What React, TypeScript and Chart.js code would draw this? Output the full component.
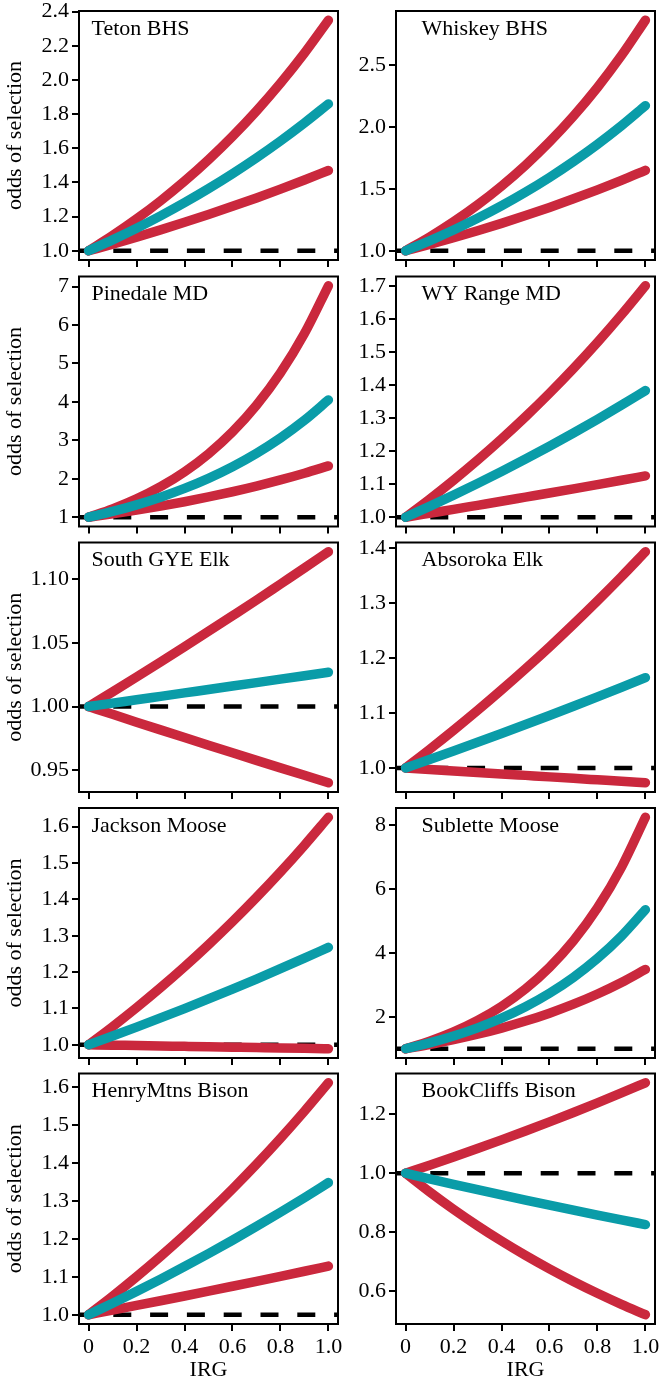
import React, { useEffect, useRef } from "react";
import { Chart, registerables } from "chart.js";

Chart.register(...registerables);

// ---------- data ----------
const IRG = [0, 0.1, 0.2, 0.3, 0.4, 0.5, 0.6, 0.7, 0.8, 0.9, 1.0];
const X_TICK_LABELS = ["0", "0.2", "0.4", "0.6", "0.8", "1.0"];
const X_TITLE = "IRG";
const Y_TITLE = "odds of selection";

const PANEL_TITLES = [
  "Teton BHS",
  "Whiskey BHS",
  "Pinedale MD",
  "WY Range MD",
  "South GYE Elk",
  "Absoroka Elk",
  "Jackson Moose",
  "Sublette Moose",
  "HenryMtns Bison",
  "BookCliffs Bison",
];

const TETON_HI = [1, 1.0892, 1.1863, 1.2922, 1.4074, 1.533, 1.6697, 1.8187, 1.9809, 2.1575, 2.35];
const TETON_MID = [1, 1.064, 1.1321, 1.2046, 1.2818, 1.3638, 1.4512, 1.5441, 1.6429, 1.7481, 1.86];
const TETON_LO = [1, 1.0393, 1.0801, 1.1225, 1.1666, 1.2124, 1.2601, 1.3096, 1.361, 1.4144, 1.47];
const TETON_YTICKS = ["1.0", "1.2", "1.4", "1.6", "1.8", "2.0", "2.2", "2.4"];

const WHISKEY_HI = [1, 1.111, 1.2342, 1.3712, 1.5233, 1.6923, 1.8801, 2.0887, 2.3204, 2.578, 2.864];
const WHISKEY_MID = [1, 1.0807, 1.1679, 1.2622, 1.364, 1.4741, 1.5931, 1.7217, 1.8606, 2.0107, 2.173];
const WHISKEY_LO = [1, 1.0514, 1.1054, 1.1621, 1.2218, 1.2845, 1.3505, 1.4199, 1.4928, 1.5694, 1.65];
const WHISKEY_YTICKS = ["1.0", "1.5", "2.0", "2.5"];

const PINEDALE_HI = [1, 1.2152, 1.4766, 1.7942, 2.1804, 2.6495, 3.2196, 3.9125, 4.7542, 5.7771, 7.02];
const PINEDALE_MID = [1, 1.1501, 1.3228, 1.5214, 1.7498, 2.0125, 2.3146, 2.6621, 3.0617, 3.5213, 4.05];
const PINEDALE_LO = [1, 1.0885, 1.1848, 1.2897, 1.4038, 1.5281, 1.6633, 1.8105, 1.9708, 2.1452, 2.335];
const PINEDALE_YTICKS = ["1", "2", "3", "4", "5", "6", "7"];

const WYRANGE_HI = [1, 1.0545, 1.112, 1.1726, 1.2365, 1.3038, 1.3749, 1.4498, 1.5288, 1.6122, 1.7];
const WYRANGE_MID = [1, 1.033, 1.067, 1.1022, 1.1385, 1.176, 1.2148, 1.2548, 1.2962, 1.3389, 1.383];
const WYRANGE_LO = [1, 1.0119, 1.0238, 1.036, 1.0482, 1.0607, 1.0732, 1.0859, 1.0988, 1.1118, 1.125];
const WYRANGE_YTICKS = ["1.0", "1.1", "1.2", "1.3", "1.4", "1.5", "1.6", "1.7"];

const SOUTHGYE_HI = [1, 1.0115, 1.0232, 1.035, 1.047, 1.0591, 1.0713, 1.0836, 1.0962, 1.1088, 1.1216];
const SOUTHGYE_MID = [1, 1.0027, 1.0053, 1.008, 1.0107, 1.0134, 1.0161, 1.0188, 1.0215, 1.0242, 1.0269];
const SOUTHGYE_LO = [1, 0.99384, 0.98772, 0.98164, 0.97559, 0.96959, 0.96362, 0.95768, 0.95179, 0.94593, 0.9401];
const SOUTHGYE_YTICKS = ["0.95", "1.00", "1.05", "1.10"];

const ABSOROKA_HI = [1, 1.0337, 1.0685, 1.1045, 1.1418, 1.1803, 1.22, 1.2612, 1.3037, 1.3476, 1.393];
const ABSOROKA_MID = [1, 1.0153, 1.0308, 1.0466, 1.0626, 1.0789, 1.0954, 1.1122, 1.1292, 1.1465, 1.164];
const ABSOROKA_LO = [1, 0.99727, 0.99454, 0.99182, 0.98911, 0.98641, 0.98371, 0.98102, 0.97834, 0.97566, 0.973];
const ABSOROKA_YTICKS = ["1.0", "1.1", "1.2", "1.3", "1.4"];

const JACKSON_HI = [1, 1.0498, 1.1021, 1.157, 1.2146, 1.2752, 1.3387, 1.4054, 1.4753, 1.5489, 1.626];
const JACKSON_MID = [1, 1.024, 1.0486, 1.0738, 1.0996, 1.1261, 1.1531, 1.1808, 1.2092, 1.2382, 1.268];
const JACKSON_LO = [1, 0.99889, 0.99779, 0.99669, 0.99558, 0.99448, 0.99339, 0.99229, 0.99119, 0.9901, 0.989];
const JACKSON_YTICKS = ["1.0", "1.1", "1.2", "1.3", "1.4", "1.5", "1.6"];

const SUBLETTE_HI = [1, 1.2348, 1.5247, 1.8827, 2.3247, 2.8705, 3.5445, 4.3768, 5.4044, 6.6733, 8.24];
const SUBLETTE_MID = [1, 1.1826, 1.3985, 1.6538, 1.9559, 2.313, 2.7353, 3.2348, 3.8254, 4.524, 5.35];
const SUBLETTE_LO = [1, 1.1328, 1.2833, 1.4537, 1.6468, 1.8655, 2.1133, 2.3939, 2.7118, 3.072, 3.48];
const SUBLETTE_YTICKS = ["2", "4", "6", "8"];

const HENRY_HI = [1, 1.0488, 1.1001, 1.1538, 1.2101, 1.2693, 1.3312, 1.3963, 1.4645, 1.536, 1.611];
const HENRY_MID = [1, 1.0303, 1.0615, 1.0937, 1.1269, 1.161, 1.1962, 1.2325, 1.2699, 1.3083, 1.348];
const HENRY_LO = [1, 1.0121, 1.0244, 1.0368, 1.0494, 1.0621, 1.075, 1.088, 1.1012, 1.1145, 1.128];
const HENRY_YTICKS = ["1.0", "1.1", "1.2", "1.3", "1.4", "1.5", "1.6"];

const BOOKCLIFFS_HI = [1, 1.0271, 1.0549, 1.0834, 1.1127, 1.1428, 1.1737, 1.2055, 1.2381, 1.2716, 1.306];
const BOOKCLIFFS_MID = [1, 0.98107, 0.96249, 0.94427, 0.92639, 0.90885, 0.89164, 0.87476, 0.85819, 0.84195, 0.826];
const BOOKCLIFFS_LO = [1, 0.93688, 0.87775, 0.82234, 0.77043, 0.7218, 0.67624, 0.63355, 0.59357, 0.5561, 0.521];
const BOOKCLIFFS_YTICKS = ["0.6", "0.8", "1.0", "1.2"];

const REFERENCE_ODDS = 1;

type PanelSpec = {
  title: string;
  hi: number[];
  mid: number[];
  lo: number[];
  yTicks: string[];
};

const PANELS: PanelSpec[] = [
  { title: PANEL_TITLES[0], hi: TETON_HI, mid: TETON_MID, lo: TETON_LO, yTicks: TETON_YTICKS },
  { title: PANEL_TITLES[1], hi: WHISKEY_HI, mid: WHISKEY_MID, lo: WHISKEY_LO, yTicks: WHISKEY_YTICKS },
  { title: PANEL_TITLES[2], hi: PINEDALE_HI, mid: PINEDALE_MID, lo: PINEDALE_LO, yTicks: PINEDALE_YTICKS },
  { title: PANEL_TITLES[3], hi: WYRANGE_HI, mid: WYRANGE_MID, lo: WYRANGE_LO, yTicks: WYRANGE_YTICKS },
  { title: PANEL_TITLES[4], hi: SOUTHGYE_HI, mid: SOUTHGYE_MID, lo: SOUTHGYE_LO, yTicks: SOUTHGYE_YTICKS },
  { title: PANEL_TITLES[5], hi: ABSOROKA_HI, mid: ABSOROKA_MID, lo: ABSOROKA_LO, yTicks: ABSOROKA_YTICKS },
  { title: PANEL_TITLES[6], hi: JACKSON_HI, mid: JACKSON_MID, lo: JACKSON_LO, yTicks: JACKSON_YTICKS },
  { title: PANEL_TITLES[7], hi: SUBLETTE_HI, mid: SUBLETTE_MID, lo: SUBLETTE_LO, yTicks: SUBLETTE_YTICKS },
  { title: PANEL_TITLES[8], hi: HENRY_HI, mid: HENRY_MID, lo: HENRY_LO, yTicks: HENRY_YTICKS },
  { title: PANEL_TITLES[9], hi: BOOKCLIFFS_HI, mid: BOOKCLIFFS_MID, lo: BOOKCLIFFS_LO, yTicks: BOOKCLIFFS_YTICKS },
];

// ---------- layout & style ----------
const FONT = '"Liberation Serif", "Times New Roman", Times, serif';
const FONT_SIZE = 22;
const RED = "#CA283D";
const TEAL = "#0A9CA8";
const CURVE_WIDTH = 9.5;
const PAGE_W = 660;
const PAGE_H = 1383;
const ROW_TOP = [11, 276.5, 542.5, 808, 1073.5];
const ROW_BOTTOM = [260, 526.5, 792, 1058, 1324];
const BOX_LEFT = [79, 396];
const BOX_RIGHT = [338, 655];
const CANVAS_LEFT = [0, 345];
const CANVAS_RIGHT = [345, 660];
const TITLE_DX = [12.5, 25.5];
const TITLE_DY = 23.5;

const decorPlugin = {
  id: "panelDecor",
  afterDraw(chart: any, _args: any, opts: any) {
    const { ctx, chartArea } = chart;
    const { left, top, right, bottom } = chartArea;
    ctx.save();
    ctx.strokeStyle = "#000";
    ctx.lineWidth = 2;
    ctx.strokeRect(left, top, right - left, bottom - top);
    ctx.fillStyle = "#000";
    ctx.font = `${FONT_SIZE}px ${FONT}`;
    ctx.textAlign = "left";
    ctx.textBaseline = "alphabetic";
    ctx.fillText(opts.title, left + opts.dx, top + TITLE_DY);
    ctx.restore();
  },
};

function Panel({ spec, row, col }: { spec: PanelSpec; row: number; col: number }) {
  const ref = useRef<HTMLCanvasElement | null>(null);
  const isBottom = row === ROW_TOP.length - 1;
  const isLeft = col === 0;
  const cTop = Math.floor(ROW_TOP[row]) - 11;
  const cBottom = isBottom ? PAGE_H : Math.ceil(ROW_BOTTOM[row]) + 10;
  const cLeft = CANVAS_LEFT[col];
  const w = CANVAS_RIGHT[col] - cLeft;
  const h = cBottom - cTop;

  useEffect(() => {
    if (!ref.current) return;
    const all = [...spec.hi, ...spec.mid, ...spec.lo];
    const dMin = Math.min(...all);
    const dMax = Math.max(...all);
    const yExt = (dMax - dMin) * 0.04;
    const xMin = Math.min(...IRG);
    const xMax = Math.max(...IRG);
    const xExt = (xMax - xMin) * 0.04;
    const yVals = spec.yTicks.map(Number);
    const xVals = X_TICK_LABELS.map(Number);
    const pts = (arr: number[]) => IRG.map((x, i) => ({ x, y: arr[i] }));
    const curve = (arr: number[], color: string, order: number) => ({
      data: pts(arr),
      borderColor: color,
      backgroundColor: color,
      borderWidth: CURVE_WIDTH,
      borderCapStyle: "round",
      borderJoinStyle: "round",
      cubicInterpolationMode: "monotone",
      pointRadius: 0,
      fill: false,
      order,
    });
    const font = { family: FONT, size: FONT_SIZE };
    const zeroPad = (s: any) => {
      s.paddingLeft = 0;
      s.paddingRight = 0;
      s.paddingTop = 0;
      s.paddingBottom = 0;
    };

    const chart = new Chart(ref.current, {
      type: "line",
      data: {
        datasets: [
          {
            data: [
              { x: xMin - xExt, y: REFERENCE_ODDS },
              { x: xMax + xExt, y: REFERENCE_ODDS },
            ],
            borderColor: "#000",
            borderWidth: 4.5,
            borderDash: [18, 18.8],
            borderDashOffset: 2.5,
            borderCapStyle: "butt",
            pointRadius: 0,
            fill: false,
            order: 4,
          },
          curve(spec.hi, RED, 3),
          curve(spec.lo, RED, 2),
          curve(spec.mid, TEAL, 1),
        ] as any,
      },
      options: {
        responsive: false,
        animation: false,
        events: [],
        layout: {
          padding: {
            left: 0,
            top: ROW_TOP[row] - cTop,
            right: CANVAS_RIGHT[col] - BOX_RIGHT[col],
            bottom: 0,
          },
        },
        plugins: {
          legend: { display: false },
          tooltip: { enabled: false },
          title: { display: false },
          panelDecor: { title: spec.title, dx: TITLE_DX[col] },
        } as any,
        scales: {
          x: {
            type: "linear",
            min: xMin - xExt,
            max: xMax + xExt,
            grid: {
              display: true,
              drawOnChartArea: false,
              drawTicks: true,
              tickLength: 7,
              lineWidth: 2,
              color: "#000",
            },
            border: { display: false },
            ticks: {
              display: isBottom,
              autoSkip: false,
              maxRotation: 0,
              padding: 3,
              color: "#000",
              font,
              callback: (_v: any, i: number) => X_TICK_LABELS[i],
            },
            title: {
              display: isBottom,
              text: X_TITLE,
              color: "#000",
              font,
              padding: { top: 0, bottom: 0 },
            },
            afterBuildTicks: (s: any) => {
              s.ticks = xVals.map((v) => ({ value: v }));
            },
            afterFit: (s: any) => {
              s.height = cBottom - ROW_BOTTOM[row];
              zeroPad(s);
            },
          },
          y: {
            type: "linear",
            min: dMin - yExt,
            max: dMax + yExt,
            grid: {
              display: true,
              drawOnChartArea: false,
              drawTicks: true,
              tickLength: 7,
              lineWidth: 2,
              color: "#000",
            },
            border: { display: false },
            ticks: {
              autoSkip: false,
              padding: 3,
              color: "#000",
              font,
              callback: (_v: any, i: number) => spec.yTicks[i],
            },
            title: {
              display: isLeft,
              text: Y_TITLE,
              color: "#000",
              font,
              padding: { top: 2.5, bottom: 0 },
            },
            afterBuildTicks: (s: any) => {
              s.ticks = yVals.map((v) => ({ value: v }));
            },
            afterFit: (s: any) => {
              s.width = BOX_LEFT[col] - cLeft;
              zeroPad(s);
            },
          },
        },
      } as any,
      plugins: [decorPlugin as any],
    });
    return () => chart.destroy();
  }, []);

  return (
    <canvas
      ref={ref}
      width={w}
      height={h}
      style={{ position: "absolute", left: cLeft, top: cTop, width: w, height: h }}
    />
  );
}

export default function App() {
  return (
    <div
      style={{
        position: "absolute",
        left: 0,
        top: 0,
        width: PAGE_W,
        height: PAGE_H,
        background: "#fff",
        overflow: "hidden",
      }}
    >
      {PANELS.map((spec, i) => (
        <Panel key={spec.title} spec={spec} row={Math.floor(i / 2)} col={i % 2} />
      ))}
    </div>
  );
}
